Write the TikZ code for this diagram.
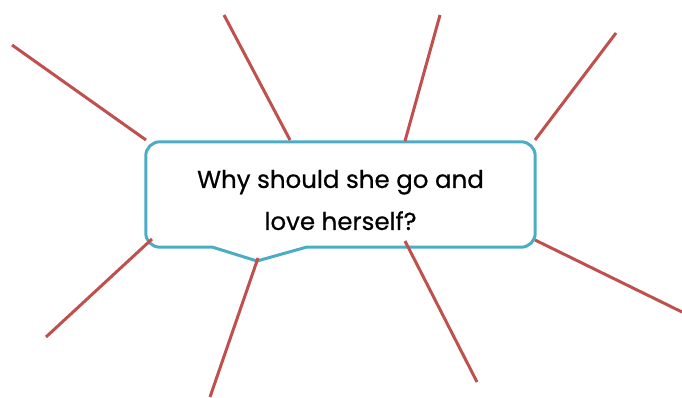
\documentclass[tikz,border=0pt]{standalone}
\usepackage{fontspec}
\setmainfont{Poppins}
\newfontfamily\questionfont{Poppins}[FakeBold=0.6]
\usepackage{tikz}
\usetikzlibrary{positioning,calc}
\definecolor{spokered}{HTML}{C0504D}
\definecolor{bubbleblue}{HTML}{4BACC6}

\begin{document}
\begin{tikzpicture}[x=1pt,y=1pt,
    spoke/.style={draw=spokered,line width=3pt},
    bubble/.style={draw=bubbleblue,line width=3pt,line join=round}]

\useasboundingbox (0,0) rectangle (682,397);

% Question box
\node[minimum width=389pt,minimum height=105pt,inner sep=0pt] (question) at (340.5,202.5) {};
\node[align=center,font=\questionfont\fontsize{24.5}{42}\selectfont,
      anchor=center] (text) at (340.5,197) {Why should she go and\\love herself?};

% Pointer
\coordinate (tipL) at (212,150);
\coordinate (tip)  at (257,136);
\coordinate (tipR) at (307,150);

\draw[bubble] (question.west) [rounded corners=14pt]
    -- (question.north west) -- (question.north east)
    -- (question.south east) [sharp corners] -- (tipR)
    -- (tip) -- (tipL) [rounded corners=14pt]
    -- (question.south west) -- cycle;

% Spokes
\foreach \n/\a/\b in {1/{146,257}/{12,352},
                      2/{290,257}/{224,382},
                      3/{405,256}/{440,382},
                      4/{535,257}/{616,364},
                      5/{535,157}/{682,85},
                      6/{405,156}/{477,15},
                      7/{258,139}/{210,0},
                      8/{152,158}/{46,60}} {
    \coordinate (in\n) at (\a);
    \coordinate (out\n) at (\b);
    \draw[spoke] (in\n) -- (out\n);
}

\end{tikzpicture}
\end{document}
